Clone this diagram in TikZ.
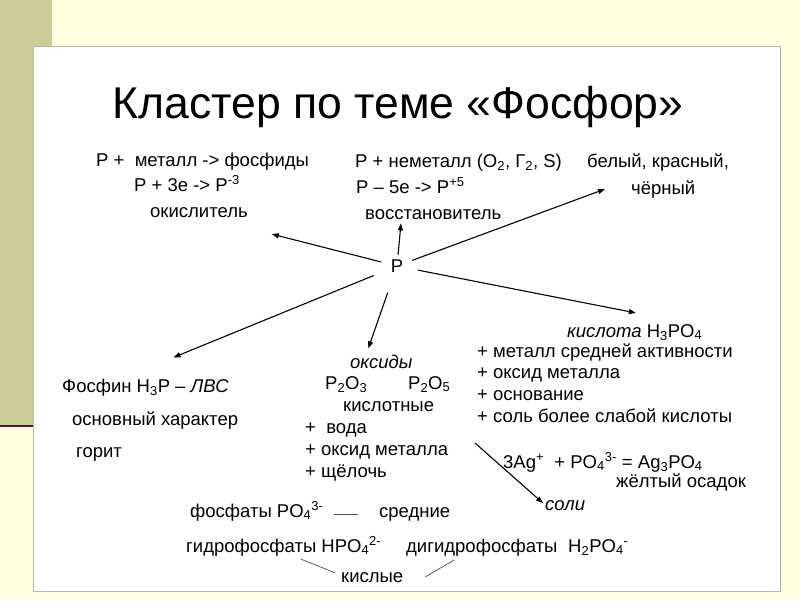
\documentclass[tikz,border=0pt]{standalone}
\usepackage{fontspec}
\setmainfont{Liberation Sans}
\usetikzlibrary{arrows.meta}
\definecolor{slidebg}{HTML}{FFFFDD}
\definecolor{sidebar}{HTML}{CCCC99}
\definecolor{sideline}{HTML}{4A1B3C}
\definecolor{frameline}{HTML}{B4B4B4}

\begin{document}
\begin{tikzpicture}[
    x=1pt, y=-1pt,
    txt/.style={anchor=base west, inner sep=0pt, font=\fontsize{18.5}{22}\selectfont},
    arr/.style={draw, -{Triangle[length=7pt, width=5pt]}, line width=1.1pt},
    link/.style={draw, line width=0.7pt, black!70}
]
    \useasboundingbox (0,0) rectangle (800,600);
    \fill[slidebg] (0,0) rectangle (800,600);
    \fill[sidebar] (0,0) rectangle (52,426);
    \draw[sideline, line width=2pt] (0,426) -- (34,426);
    \filldraw[fill=white, draw=frameline, line width=1pt] (33,46) rectangle (780,591);

    \node[anchor=base, inner sep=0pt, font=\fontsize{44.5}{50}\selectfont] (title) at (398,118) {Кластер по теме «Фосфор»};

    \node[txt] (metall) at (96,166) {P +\ \ металл -> фосфиды};
    \node[txt] (minus3) at (134,191) {P + 3e -> P\textsuperscript{-3}};
    \node[txt] (okisl) at (150,217) {окислитель};
    \node[txt] (nemet) at (355,167) {P + неметалл (O\textsubscript{2}, Г\textsubscript{2}, S)};
    \node[txt] (plus5) at (356,193) {P – 5e -> P\textsuperscript{+5}};
    \node[txt] (vosst) at (365,219) {восстановитель};
    \node[txt] (allotr) at (587,167) {белый, красный,};
    \node[txt] (cherny) at (631,194) {чёрный};

    \node[circle, minimum size=40pt, inner sep=0pt, font=\fontsize{18.5}{22}\selectfont] (P) at (397,266) {P};

    \node[txt] (kislota) at (567,337) {\textit{кислота} H\textsubscript{3}PO\textsubscript{4}};
    \node[txt] (km1) at (477,357) {+ металл средней активности};
    \node[txt] (km2) at (477,378) {+ оксид металла};
    \node[txt] (km3) at (477,400) {+ основание};
    \node[txt] (km4) at (477,422) {+ соль более слабой кислоты};

    \node[txt] (oksidy) at (350,368) {\textit{оксиды}};
    \node[txt] (p2o3) at (325,389) {P\textsubscript{2}O\textsubscript{3}};
    \node[txt] (p2o5) at (408,389) {P\textsubscript{2}O\textsubscript{5}};
    \node[txt] (kislotn) at (343,411) {кислотные};
    \node[txt] (ok1) at (305,433) {+\ \ вода};
    \node[txt] (ok2) at (305,455) {+ оксид металла};
    \node[txt] (ok3) at (305,477) {+ щёлочь};

    \node[txt] (fosfin) at (62,392) {Фосфин H\textsubscript{3}P – \textit{ЛВС}};
    \node[txt] (osnov) at (72,425) {основный характер};
    \node[txt] (gorit) at (76,457) {горит};

    \node[txt] (reakc) at (503,468) {3Ag\textsuperscript{+}\ \ + PO\textsubscript{4}\textsuperscript{3-} = Ag\textsubscript{3}PO\textsubscript{4}};
    \node[txt] (osadok) at (616,487) {жёлтый осадок};
    \node[txt] (soli) at (545,510) {\textit{соли}};

    \node[txt] (fosfaty) at (190,517) {фосфаты PO\textsubscript{4}\textsuperscript{3-}};
    \node[txt] (srednie) at (379,517) {средние};
    \node[txt] (gidro) at (186,552) {гидрофосфаты HPO\textsubscript{4}\textsuperscript{2-}};
    \node[txt] (digidro) at (406,552) {дигидрофосфаты};
    \node[txt] (h2po4) at (568,552) {H\textsubscript{2}PO\textsubscript{4}\textsuperscript{-}};
    \node[txt] (kislye) at (341,582) {кислые};

    \coordinate (soli-from) at (475,443);

    \draw[arr, shorten <=-4pt] (P) -- ([shift={(24,22)}]okisl.east);
    \draw[arr, shorten <=-9pt] (P) -- ([shift={(36,4)}]vosst.south west);
    \draw[arr, shorten <=-4pt] (P) -- ([shift={(-26,0)}]cherny.west);
    \draw[arr, shorten <=5pt] (P) -- ([shift={(28,-21)}]fosfin.north);
    \draw[arr, shorten <=8pt] (P) -- ([shift={(-13,-6)}]oksidy.north);
    \draw[arr, shorten <=1pt] (P) -- ([shift={(1,-11)}]kislota.north);
    \draw[arr] (soli-from) -- ([shift={(-2,-2)}]soli.west);

    \draw[link] ([xshift=10pt]fosfaty.east |- srednie.west) -- ([xshift=-21pt]srednie.west);
    \draw[link] ([shift={(17,3)}]gidro.south) -- ([shift={(-6,1)}]kislye.north west);
    \draw[link] ([shift={(48,4)}]digidro.south west) -- ([shift={(22,5)}]kislye.north east);
\end{tikzpicture}
\end{document}
